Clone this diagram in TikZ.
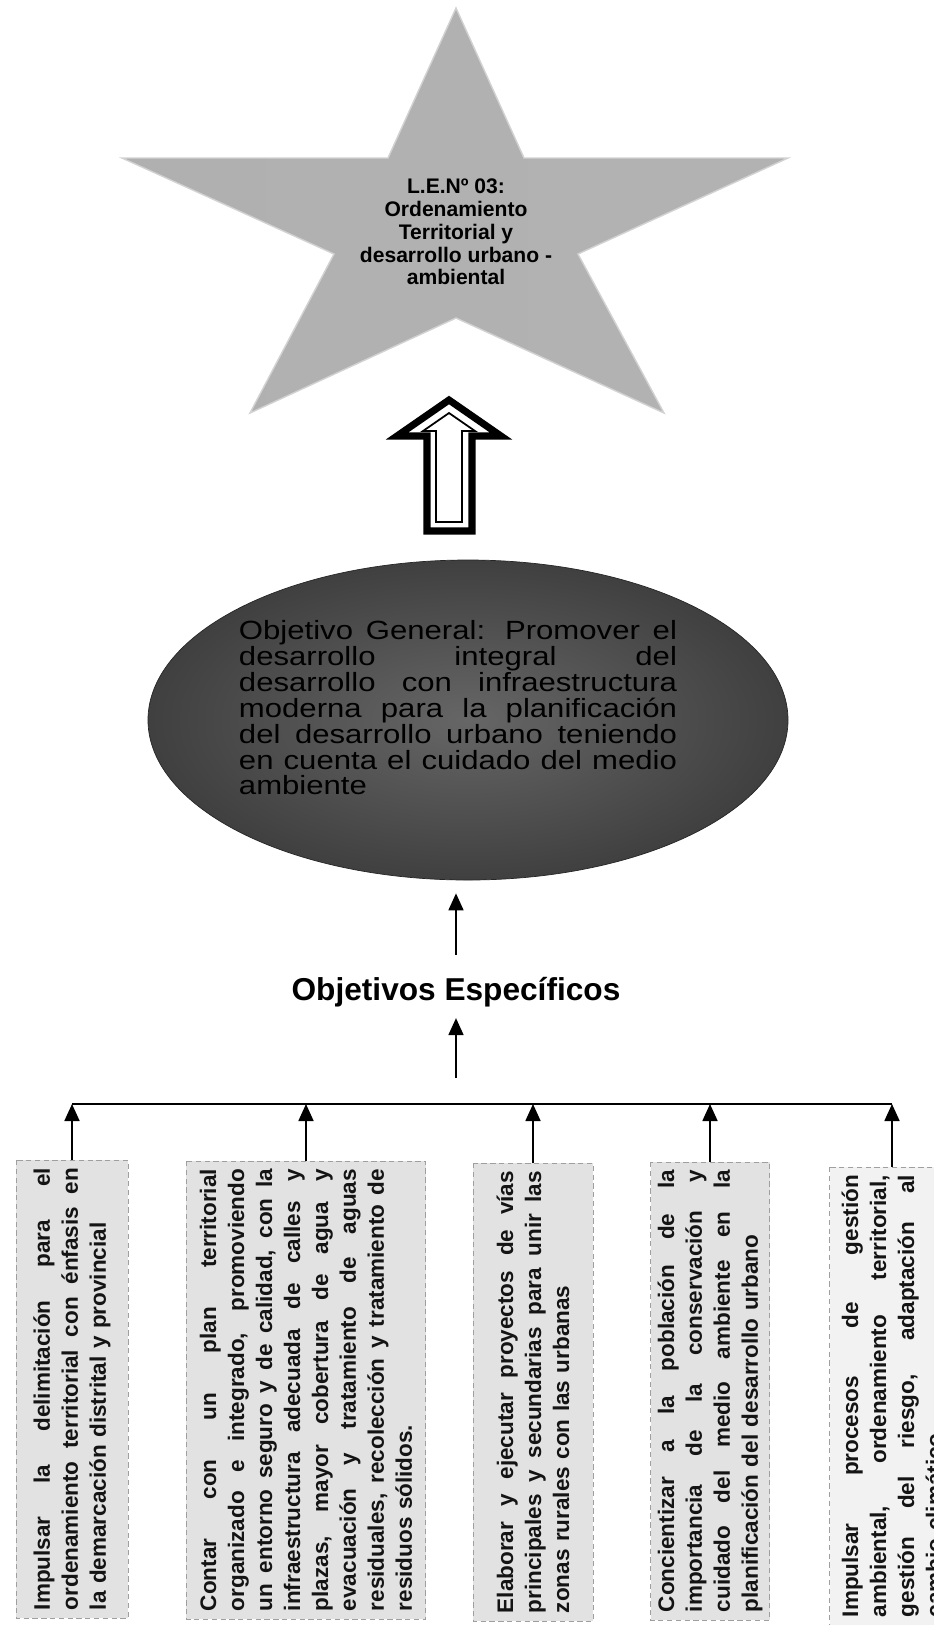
\documentclass[tikz,border=0pt]{standalone}
\usepackage{fontspec}
\setmainfont{Liberation Sans}
\newfontfamily\ogfont[FakeStretch=1.18]{Liberation Sans}
\usetikzlibrary{arrows.meta,positioning,shapes.geometric}
\definecolor{boxgray}{RGB}{226,226,226}
\definecolor{ink}{RGB}{20,20,20}
\newlength{\jw}
\newcommand{\jl}[1]{\makebox[\jw][s]{\spaceskip=0pt\xspaceskip=0pt #1}}

\begin{document}
\begin{tikzpicture}[x=0.2mm, y=-0.2mm,
  ob/.style={rotate=90, draw=gray!75, densely dashed, fill=boxgray, text=ink, align=left,
    minimum width=91.6mm, text width=88.4mm, inner xsep=1.6mm, inner ysep=0.8mm,
    font=\setlength{\jw}{88.4mm}\bfseries\fontsize{12.8}{15.9}\selectfont},
  a/.style={-{Triangle[length=3.4mm,width=3mm]}, line width=1pt}]
  \path[use as bounding box, fill=white] (0,0) rectangle (934,1625);
  % star
  \shade[left color=gray!62, middle color=gray!88, right color=gray!60, draw=gray!35, line width=.8pt]
    (456,8) -- (524,158) -- (788,158) -- (578,254) -- (664,413) -- (456,318)
    -- (250,413) -- (334,254) -- (122,158) -- (388,158) -- cycle;
  \node[align=center, font=\bfseries\fontsize{12}{13}\selectfont] (len) at (456,232)
    {L.E.Nº 03:\\Ordenamiento\\Territorial y\\desarrollo urbano -\\ambiental};
  % hollow arrow
  \draw[line width=4pt, line join=miter] (449,400) -- (501,436) -- (472,436) -- (472,531)
    -- (427,531) -- (427,436) -- (397,436) -- cycle;
  \draw[line width=1pt] (449,413) -- (475,431) -- (462,431) -- (462,522)
    -- (436,522) -- (436,431) -- (423,431) -- cycle;
  % objetivo general
  \node[ellipse, draw=black!85, inner color=black!60, outer color=black!75,
    minimum width=128mm, minimum height=64mm] (og) at (468,720) {};
  \node[text width=87.6mm, align=left, inner sep=0pt,
    font=\setlength{\jw}{87.6mm}\ogfont\fontsize{15}{14.7}\selectfont] (ogt) at (458,708)
    {\jl{Objetivo General: Promover el}\\\jl{desarrollo integral del}\\
     \jl{desarrollo con infraestructura}\\\jl{moderna para la planificación}\\
     \jl{del desarrollo urbano teniendo}\\\jl{en cuenta el cuidado del medio}\\ambiente};
  \node[font=\bfseries\fontsize{18}{20}\selectfont] (oe) at (456,992) {Objetivos Específicos};
  \coordinate (bus) at (456,1104);
  \draw[a, shorten <=3.2mm, shorten >=2.6mm] (oe.north) -- (oe.north |- og.south);
  \draw[a, shorten <=5.2mm, shorten >=1mm] (bus) -- (oe.south);
  % objetivos especificos
  \node[ob, minimum height=22.4mm] (b1) at (72,1389)
    {\jl{Impulsar la delimitación para el}\\\jl{ordenamiento territorial con énfasis en}\\la demarcación distrital y provincial};
  \node[ob, minimum height=47.8mm] (b2) at (306,1390)
    {\jl{Contar con un plan territorial}\\\jl{organizado e integrado, promoviendo}\\
     \jl{un entorno seguro y de calidad, con la}\\\jl{infraestructura adecuada de calles y}\\
     \jl{plazas, mayor cobertura de agua y}\\\jl{evacuación y tratamiento de aguas}\\
     \jl{residuales, recolección y tratamiento de}\\residuos sólidos.};
  \node[ob, minimum height=24mm] (b3) at (533,1392)
    {\jl{Elaborar y ejecutar proyectos de vías}\\\jl{principales y secundarias para unir las}\\zonas rurales con las urbanas};
  \node[ob, minimum height=23.8mm] (b4) at (710,1391)
    {\jl{Concientizar a la población de la}\\\jl{importancia de la conservación y}\\
     \jl{cuidado del medio ambiente en la}\\planificación del desarrollo urbano};
  \node[ob, minimum height=25mm, fill=gray!10] (b5) at (892,1396)
    {\jl{Impulsar procesos de gestión}\\\jl{ambiental, ordenamiento territorial,}\\
     \jl{gestión del riesgo, adaptación al}\\cambio climático};
  \draw[line width=1pt] (b1.east |- bus) -- (b5.east |- bus);
  \foreach \b in {b1,b2,b3,b4,b5}
    \draw[a] (\b.east) -- (\b.east |- bus);
\end{tikzpicture}
\end{document}
